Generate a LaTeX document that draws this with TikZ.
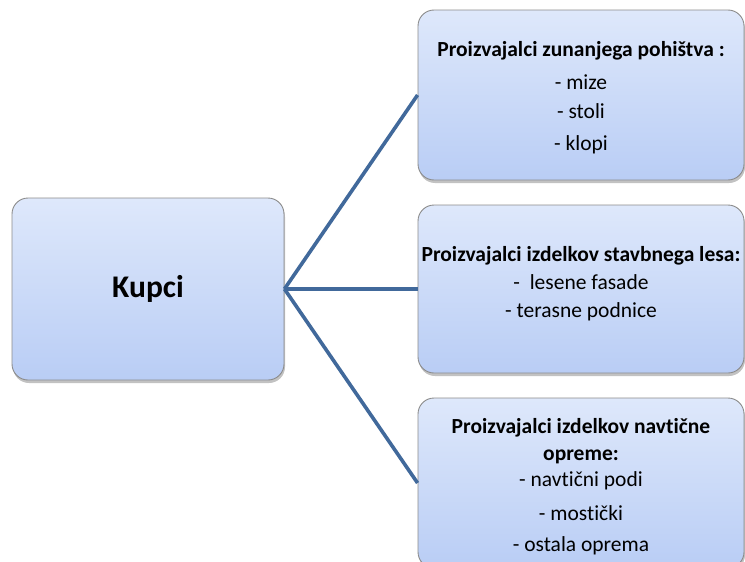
\documentclass[tikz,border=0pt]{standalone}
\usepackage{fontspec}
\setmainfont[Ligatures=NoCommon]{Carlito}
\usetikzlibrary{shadows}
\definecolor{boxtop}{HTML}{DEE8FB}
\definecolor{boxbottom}{HTML}{B9CDF5}
\definecolor{boxedge}{HTML}{8C8C8C}
\definecolor{linkblue}{HTML}{41699B}
\tikzset{
  card/.style={rectangle, rounded corners=16pt, draw=boxedge, line width=0.9pt,
    top color=boxtop, bottom color=boxbottom, align=center,
    drop shadow={shadow xshift=1pt, shadow yshift=-3pt, opacity=0.4, fill=black!60},
    inner sep=0pt},
  leafcard/.style={card, minimum width=326pt, minimum height=170pt, font=\fontsize{21.5}{26}\selectfont},
  link/.style={draw=linkblue, line width=3.6pt},
}
\begin{document}
\begin{tikzpicture}[x=1pt, y=-1pt]
\useasboundingbox (0,0) rectangle (745,562);
\node[card, minimum width=272pt, minimum height=182pt, font=\fontsize{31.5}{36}\selectfont\bfseries]
  (buyers) at (148,289) {Kupci};
\node[leafcard] (furniture) at (581,95)
  {\rule{0pt}{20pt}\textbf{Proizvajalci zunanjega pohištva :}\\[7pt] - mize\\[3pt] - stoli\\[6pt] - klopi};
\node[leafcard, minimum height=168pt] (timber) at (581,289)
  {\textbf{Proizvajalci izdelkov stavbnega lesa:}\\[2pt] -\ \ lesene fasade\\[2pt] - terasne podnice\\[-12pt]\mbox{}};
\node[leafcard] (marine) at (581,483)
  {\rule{0pt}{22pt}\textbf{Proizvajalci izdelkov navtične}\\[1pt] \textbf{opreme:}\\[0pt] - navtični podi\\[8pt] - mostički\\[5pt] - ostala oprema};
\draw[link] (buyers.east) -- (furniture.west);
\draw[link] (buyers.east) -- (timber.west);
\draw[link] (buyers.east) -- (marine.west);
\end{tikzpicture}
\end{document}
